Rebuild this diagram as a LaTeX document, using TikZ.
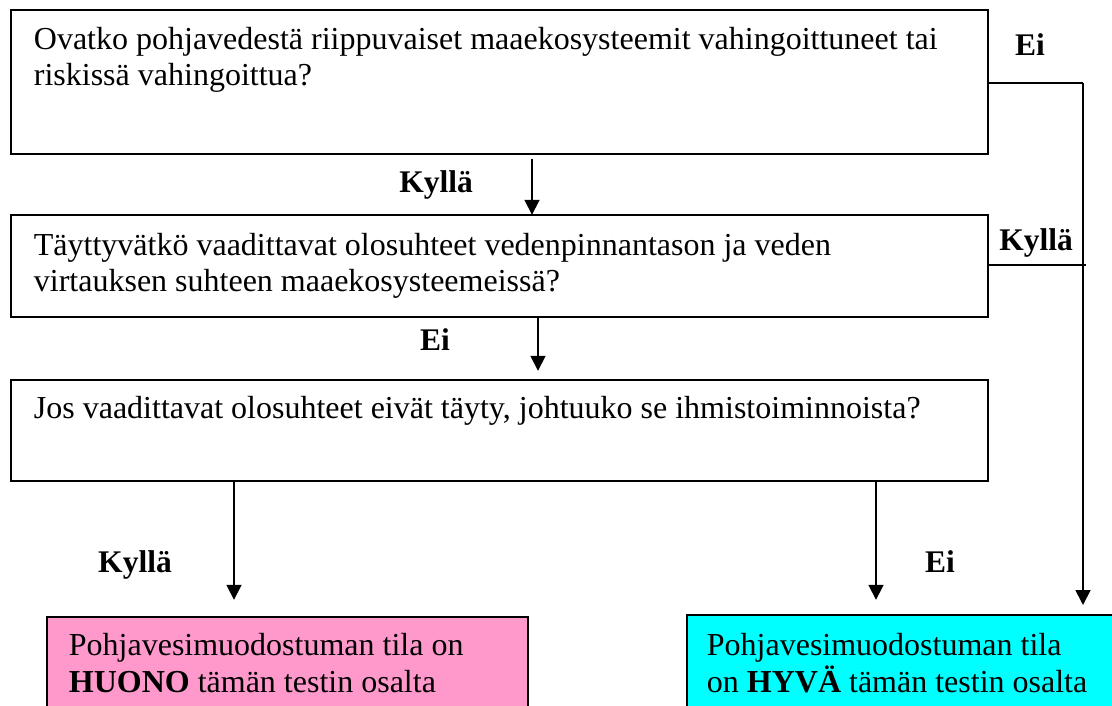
\documentclass[tikz,border=0pt]{standalone}
\usepackage{fontspec}
\setmainfont{Liberation Serif}
\usetikzlibrary{arrows.meta}
\definecolor{pinkfill}{HTML}{FF99CC}
\definecolor{cyanfill}{HTML}{00FFFF}
\begin{document}
\begin{tikzpicture}[x=1pt,y=-1pt,
  line width=1.8pt,
  box/.style={draw,anchor=north west,inner sep=0pt},
  txt/.style={anchor=base west,inner sep=0pt,font=\fontsize{32}{37}\selectfont},
  lbl/.style={anchor=base,inner sep=0pt,font=\fontsize{31.5}{36}\selectfont\bfseries},
  arr/.style={-{Triangle[length=15pt,width=15pt]}}]
\useasboundingbox (0,0) rectangle (1112,706);
% boxes
\node[box,minimum width=977pt,minimum height=144pt] (b1) at (10,9) {};
\node[box,minimum width=977pt,minimum height=102pt] (b2) at (10,214) {};
\node[box,minimum width=977pt,minimum height=101pt] (b3) at (10,379) {};
\node[box,fill=pinkfill,minimum width=481pt,minimum height=120pt] (bad) at (46,616) {};
\node[box,fill=cyanfill,minimum width=440pt,minimum height=120pt] (good) at (686,614) {};
% texts
\node[txt] (t1a) at (33,50) {Ovatko pohjavedestä riippuvaiset maaekosysteemit vahingoittuneet tai};
\node[txt] (t1b) at (33,86) {riskissä vahingoittua?};
\node[txt] (t2a) at (33,255) {Täyttyvätkö vaadittavat olosuhteet vedenpinnantason ja veden};
\node[txt] (t2b) at (33,291) {virtauksen suhteen maaekosysteemeissä?};
\node[txt] (t3) at (33,418) {Jos vaadittavat olosuhteet eivät täyty, johtuuko se ihmistoiminnoista?};
\node[txt] (t4a) at (68,655) {Pohjavesimuodostuman tila on};
\node[txt] (t4b) at (68,692) {\textbf{HUONO} tämän testin osalta};
\node[txt] (t5a) at (706,655) {Pohjavesimuodostuman tila};
\node[txt] (t5b) at (706,692) {on \textbf{HYVÄ} tämän testin osalta};
% labels
\node[lbl] (l1) at (1030,56) {Ei};
\node[lbl] (l2) at (436,193) {Kyllä};
\node[lbl] (l3) at (1036,250) {Kyllä};
\node[lbl] (l4) at (435,350) {Ei};
\node[lbl] (l5) at (135,572) {Kyllä};
\node[lbl] (l6) at (940,572) {Ei};
% coordinates
\coordinate (r1) at (1083,83);
\coordinate (r2) at (1086,265);
% connectors
\draw[arr] (b1.south west) ++(522,4) -- ++(0,56);
\draw[arr] (b2.south west) ++(528,0) -- ++(0,53);
\draw[arr] (b3.south west) ++(224,0) -- ++(0,118);
\draw[arr] (b3.south west) ++(866,0) -- ++(0,118);
\draw (b1.east |- r1) -- (r1);
\draw[arr] (r1) -- ++(0,522);
\draw (b2.east |- r2) -- (r2);
\end{tikzpicture}
\end{document}
